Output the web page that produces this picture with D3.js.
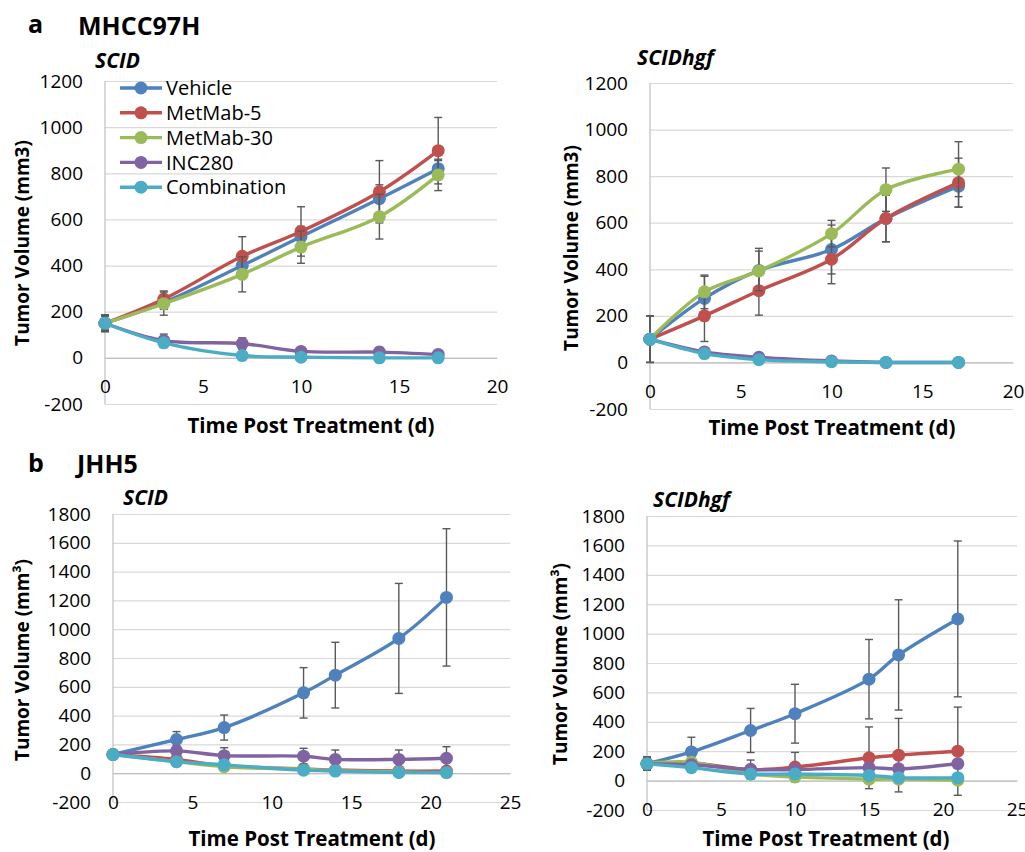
<!DOCTYPE html>
<html>
<head>
<meta charset="utf-8">
<script src="https://cdn.jsdelivr.net/npm/d3@7"></script>
<style>
  body { margin: 0; background: #fff; }
  text { font-family: "Open Sans", Lato, sans-serif; fill: #000; }
</style>
</head>
<body>
<div id="chart"></div>
<script>
// series shared by all four panels
const seriesNames = ["Vehicle", "MetMab-5", "MetMab-30", "INC280", "Combination"];
const seriesColors = ["#4f81bd", "#c0504d", "#9bbb59", "#8064a2", "#4bacc6"];

// a: MHCC97H, SCID
const daysA1 = [0, 3, 7, 10, 14, 17];
const meansA1 = [
  [150, 240, 400, 525, 690, 820],
  [150, 255, 440, 548, 720, 898],
  [150, 235, 362, 480, 612, 793],
  [150, 75, 62, 28, 25, 15],
  [150, 65, 10, 3, 0, 0]
];
const errorsA1 = [
  [36, 30, 40, 45, 60, 35],
  [36, 35, 85, 107, 135, 144],
  [36, 50, 76, 70, 97, 68],
  [30, 28, 25, 15, 20, 10],
  [30, 20, 8, 5, 5, 5]
];

// a: MHCC97H, SCIDhgf
const daysA2 = [0, 3, 6, 10, 13, 17];
const meansA2 = [
  [100, 275, 395, 485, 618, 757],
  [100, 200, 308, 443, 618, 772],
  [100, 303, 393, 553, 742, 830],
  [100, 45, 22, 6, 0, 0],
  [100, 38, 12, 3, 0, 0]
];
const errorsA2 = [
  [100, 95, 95, 105, 100, 90],
  [100, 110, 105, 105, 100, 105],
  [100, 72, 85, 57, 93, 118],
  [10, 10, 8, 5, 3, 3],
  [10, 8, 5, 3, 2, 2]
];

// b: JHH5, SCID
const daysB1 = [0, 4, 7, 12, 14, 18, 21];
const meansB1 = [
  [130, 234, 317, 558, 681, 936, 1221],
  [130, 95, 50, 30, 22, 15, 15],
  [130, 80, 45, 28, 18, 8, 3],
  [130, 155, 122, 118, 96, 96, 104],
  [130, 80, 58, 21, 15, 5, 5]
];
const errorsB1 = [
  [20, 55, 87, 175, 228, 382, 477],
  [20, 20, 15, 10, 8, 6, 5],
  [20, 15, 12, 10, 8, 5, 3],
  [20, 35, 55, 55, 65, 65, 80],
  [20, 12, 10, 8, 6, 4, 3]
];

// b: JHH5, SCIDhgf
const daysB2 = [0, 3, 7, 10, 15, 17, 21];
const meansB2 = [
  [115, 195, 341, 455, 690, 855, 1100],
  [115, 120, 75, 92, 155, 173, 200],
  [115, 125, 45, 25, 10, 10, 3],
  [115, 108, 75, 75, 88, 80, 115],
  [115, 88, 45, 45, 35, 20, 20]
];
const errorsB2 = [
  [45, 100, 150, 200, 270, 375, 530],
  [45, 20, 65, 100, 210, 250, 300],
  [45, 15, 30, 20, 15, 10, 10],
  [45, 15, 20, 20, 20, 15, 20],
  [45, 10, 15, 15, 15, 10, 10]
];

const yTicksA = [-200, 0, 200, 400, 600, 800, 1000, 1200];
const yTicksB = [-200, 0, 200, 400, 600, 800, 1000, 1200, 1400, 1600, 1800];
const xTicksA = [0, 5, 10, 15, 20];
const xTicksB = [0, 5, 10, 15, 20, 25];

const svg = d3.select("#chart").append("svg")
  .attr("width", 1025)
  .attr("height", 852);

const plainNum = d => String(d); // keep "-200" with a hyphen, no thousands comma

function drawPanel(p) {
  const x = d3.scaleLinear().domain(p.xDomain).range([p.left, p.right]);
  const y = d3.scaleLinear().domain(p.yDomain).range([p.bottom, p.top]);
  const g = svg.append("g");

  // horizontal gridlines + y labels
  const ya = g.append("g")
    .attr("transform", `translate(${p.left},0)`)
    .call(d3.axisLeft(y).tickValues(p.yTicks).tickFormat(plainNum)
      .tickSize(-(p.right - p.left)).tickPadding(22));
  ya.select(".domain").remove();
  ya.selectAll("line").attr("stroke", "#d9d9d9").attr("stroke-width", 1.2);
  ya.selectAll("text").style("font-size", "19px").attr("fill", "#000");

  // vertical axis line
  g.append("line")
    .attr("x1", p.left).attr("x2", p.left)
    .attr("y1", p.top).attr("y2", p.bottom)
    .attr("stroke", "#bfbfbf").attr("stroke-width", 1.2);

  // x axis crosses at 0
  const xa = g.append("g")
    .attr("transform", `translate(0,${y(0)})`)
    .call(d3.axisBottom(x).tickValues(p.xTicks).tickFormat(plainNum).tickSize(0).tickPadding(22));
  xa.select(".domain").attr("stroke", "#bfbfbf").attr("stroke-width", 1.2);
  xa.selectAll("text").style("font-size", "19px").attr("fill", "#000");

  const line = d3.line()
    .x(d => x(d.day))
    .y(d => y(d.v))
    .curve(d3.curveCatmullRom.alpha(0.5));

  seriesNames.forEach((name, i) => {
    const pts = p.days.map((day, j) => ({ day: day, v: p.means[i][j], e: p.errors[i][j] }));
    const sg = g.append("g");
    sg.append("path")
      .datum(pts)
      .attr("d", line)
      .attr("fill", "none")
      .attr("stroke", seriesColors[i])
      .attr("stroke-width", 3.4);

    const eb = sg.selectAll(".err").data(pts).join("g").attr("class", "err")
      .attr("stroke", "#595959").attr("stroke-width", 1.4);
    eb.append("line")
      .attr("x1", d => x(d.day)).attr("x2", d => x(d.day))
      .attr("y1", d => y(d.v - d.e)).attr("y2", d => y(d.v + d.e));
    eb.append("line")
      .attr("x1", d => x(d.day) - 4).attr("x2", d => x(d.day) + 4)
      .attr("y1", d => y(d.v + d.e)).attr("y2", d => y(d.v + d.e));
    eb.append("line")
      .attr("x1", d => x(d.day) - 4).attr("x2", d => x(d.day) + 4)
      .attr("y1", d => y(d.v - d.e)).attr("y2", d => y(d.v - d.e));

    sg.selectAll("circle").data(pts).join("circle")
      .attr("cx", d => x(d.day))
      .attr("cy", d => y(d.v))
      .attr("r", 6.5)
      .attr("fill", seriesColors[i]);
  });

  // subtitle
  g.append("text")
    .attr("x", p.titleX).attr("y", p.titleY)
    .style("font-size", "21px").style("font-weight", "bold").style("font-style", "italic")
    .text(p.title);

  // axis titles
  g.append("text")
    .attr("transform", `translate(${p.yTitleX},${p.yTitleY}) rotate(-90)`)
    .attr("text-anchor", "middle")
    .style("font-size", "19px").style("font-weight", "bold")
    .text(p.yTitle);

  g.append("text")
    .attr("x", p.xTitleX).attr("y", p.xTitleY)
    .attr("text-anchor", "middle")
    .style("font-size", "20.5px").style("font-weight", "bold")
    .text("Time Post Treatment (d)");

  return { x, y };
}

drawPanel({
  days: daysA1, means: meansA1, errors: errorsA1,
  xDomain: [0, 20], yDomain: [-200, 1200], xTicks: xTicksA, yTicks: yTicksA,
  left: 105, right: 497, top: 81, bottom: 404,
  title: "SCID", titleX: 95, titleY: 68,
  yTitle: "Tumor Volume (mm3)", yTitleX: 29, yTitleY: 243,
  xTitleX: 311, xTitleY: 433
});

drawPanel({
  days: daysA2, means: meansA2, errors: errorsA2,
  xDomain: [0, 20], yDomain: [-200, 1200], xTicks: xTicksA, yTicks: yTicksA,
  left: 650, right: 1013, top: 83, bottom: 409,
  title: "SCIDhgf", titleX: 637, titleY: 65,
  yTitle: "Tumor Volume (mm3)", yTitleX: 578, yTitleY: 248,
  xTitleX: 832, xTitleY: 435
});

drawPanel({
  days: daysB1, means: meansB1, errors: errorsB1,
  xDomain: [0, 25], yDomain: [-200, 1800], xTicks: xTicksB, yTicks: yTicksB,
  left: 113, right: 510, top: 514, bottom: 802,
  title: "SCID", titleX: 123, titleY: 505,
  yTitle: "Tumor Volume (mm³)", yTitleX: 29, yTitleY: 660,
  xTitleX: 312, xTitleY: 846
});

drawPanel({
  days: daysB2, means: meansB2, errors: errorsB2,
  xDomain: [0, 25], yDomain: [-200, 1800], xTicks: xTicksB, yTicks: yTicksB,
  left: 647, right: 1017, top: 516, bottom: 810,
  title: "SCIDhgf", titleX: 653, titleY: 507,
  yTitle: "Tumor Volume (mm³)", yTitleX: 567, yTitleY: 664,
  xTitleX: 826, xTitleY: 846
});

// legend (panel a, SCID)
const legend = svg.append("g").attr("transform", "translate(120,88)");
seriesNames.forEach((name, i) => {
  const row = legend.append("g").attr("transform", `translate(0,${i * 24.8})`);
  row.append("line").attr("x1", 0).attr("x2", 42).attr("y1", 0).attr("y2", 0)
    .attr("stroke", seriesColors[i]).attr("stroke-width", 3.4);
  row.append("circle").attr("cx", 21).attr("cy", 0).attr("r", 6.5).attr("fill", seriesColors[i]);
  row.append("text").attr("x", 46).attr("y", 0).attr("dy", "0.36em")
    .style("font-size", "20px").text(name);
});

// figure letters and cell lines
svg.append("text").attr("x", 28).attr("y", 33)
  .style("font-size", "25px").style("font-weight", "bold").text("a");
svg.append("text").attr("x", 78).attr("y", 35)
  .style("font-size", "25px").style("font-weight", "bold").text("MHCC97H");
svg.append("text").attr("x", 28).attr("y", 472)
  .style("font-size", "25px").style("font-weight", "bold").text("b");
svg.append("text").attr("x", 77).attr("y", 473)
  .style("font-size", "25px").style("font-weight", "bold").text("JHH5");
</script>
</body>
</html>
